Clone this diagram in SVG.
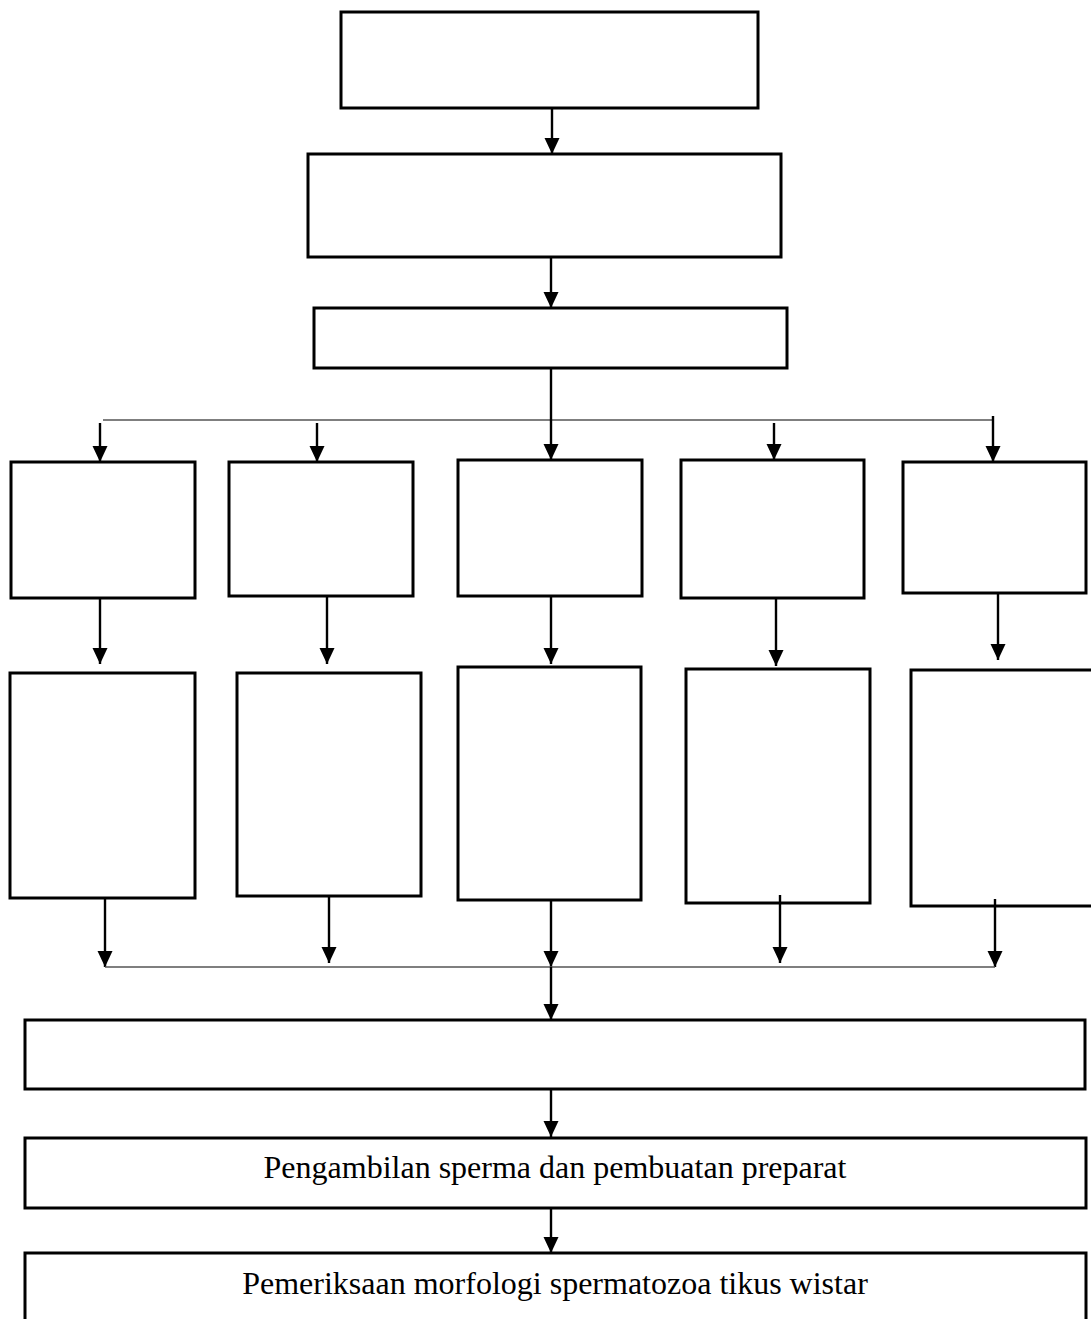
<svg xmlns="http://www.w3.org/2000/svg" width="1091" height="1319" viewBox="0 0 1091 1319">
<style>
.box{fill:#fff;stroke:#000;stroke-width:3}
.ln{stroke:#000;stroke-width:2.4;fill:none}
.hl{stroke:#555;stroke-width:1.6;fill:none}
.lbl{font-family:"Liberation Serif","Times New Roman",serif;font-size:32px;fill:#000;text-anchor:middle}
</style>
<defs>
<marker id="ah" markerUnits="userSpaceOnUse" markerWidth="16" markerHeight="16" refX="16" refY="8" orient="auto">
<path d="M0,0.5 L16,8 L0,15.5 z" fill="#000"/>
</marker>
</defs>
<rect width="1091" height="1319" fill="#fff"/>
<g id="nodes">
<g id="n1"><rect class="box" x="341" y="12" width="417" height="96"/></g>
<g id="n2"><rect class="box" x="308" y="154" width="473" height="103"/></g>
<g id="n3"><rect class="box" x="314" y="308" width="473" height="60"/></g>
<g id="a1"><rect class="box" x="11" y="462" width="184" height="136"/></g>
<g id="b1"><rect class="box" x="229" y="462" width="184" height="134"/></g>
<g id="c1"><rect class="box" x="458" y="460" width="184" height="136"/></g>
<g id="d1"><rect class="box" x="681" y="460" width="183" height="138"/></g>
<g id="e1"><rect class="box" x="903" y="462" width="183" height="131"/></g>
<g id="a2"><rect class="box" x="10" y="673" width="185" height="225"/></g>
<g id="b2"><rect class="box" x="237" y="673" width="184" height="223"/></g>
<g id="c2"><rect class="box" x="458" y="667" width="183" height="233"/></g>
<g id="d2"><rect class="box" x="686" y="669" width="184" height="234"/></g>
<g id="e2"><rect class="box" x="911" y="670" width="183" height="236"/></g>
<g id="nF"><rect class="box" x="25" y="1020" width="1060" height="69"/></g>
<g id="nG"><rect class="box" x="25" y="1138" width="1061" height="70"/>
<text class="lbl" x="555" y="1178">Pengambilan sperma dan pembuatan preparat</text></g>
<g id="nH"><rect class="box" x="25" y="1253" width="1061" height="80"/>
<text class="lbl" x="555" y="1294">Pemeriksaan morfologi spermatozoa tikus wistar</text></g>
</g>
<g id="connectors">
<line class="ln" x1="552" y1="108" x2="552" y2="154" marker-end="url(#ah)"/>
<line class="ln" x1="551" y1="257" x2="551" y2="308" marker-end="url(#ah)"/>
<line class="hl" x1="103" y1="420" x2="993" y2="420"/>
<line class="ln" x1="551" y1="368" x2="551" y2="460" marker-end="url(#ah)"/>
<line class="ln" x1="100" y1="423" x2="100" y2="462" marker-end="url(#ah)"/>
<line class="ln" x1="317" y1="423" x2="317" y2="462" marker-end="url(#ah)"/>
<line class="ln" x1="774" y1="423" x2="774" y2="460" marker-end="url(#ah)"/>
<line class="ln" x1="993" y1="416" x2="993" y2="462" marker-end="url(#ah)"/>
<line class="ln" x1="100" y1="598" x2="100" y2="664" marker-end="url(#ah)"/>
<line class="ln" x1="327" y1="596" x2="327" y2="664" marker-end="url(#ah)"/>
<line class="ln" x1="551" y1="596" x2="551" y2="664" marker-end="url(#ah)"/>
<line class="ln" x1="776" y1="598" x2="776" y2="666" marker-end="url(#ah)"/>
<line class="ln" x1="998" y1="593" x2="998" y2="660" marker-end="url(#ah)"/>
<line class="ln" x1="105" y1="898" x2="105" y2="967" marker-end="url(#ah)"/>
<line class="ln" x1="329" y1="896" x2="329" y2="963" marker-end="url(#ah)"/>
<line class="ln" x1="551" y1="900" x2="551" y2="967" marker-end="url(#ah)"/>
<line class="ln" x1="780" y1="895" x2="780" y2="963" marker-end="url(#ah)"/>
<line class="ln" x1="995" y1="899" x2="995" y2="967" marker-end="url(#ah)"/>
<line class="hl" x1="105" y1="967" x2="995" y2="967"/>
<line class="ln" x1="551" y1="967" x2="551" y2="1020" marker-end="url(#ah)"/>
<line class="ln" x1="551" y1="1089" x2="551" y2="1137" marker-end="url(#ah)"/>
<line class="ln" x1="551" y1="1208" x2="551" y2="1253" marker-end="url(#ah)"/>
</g>
</svg>
